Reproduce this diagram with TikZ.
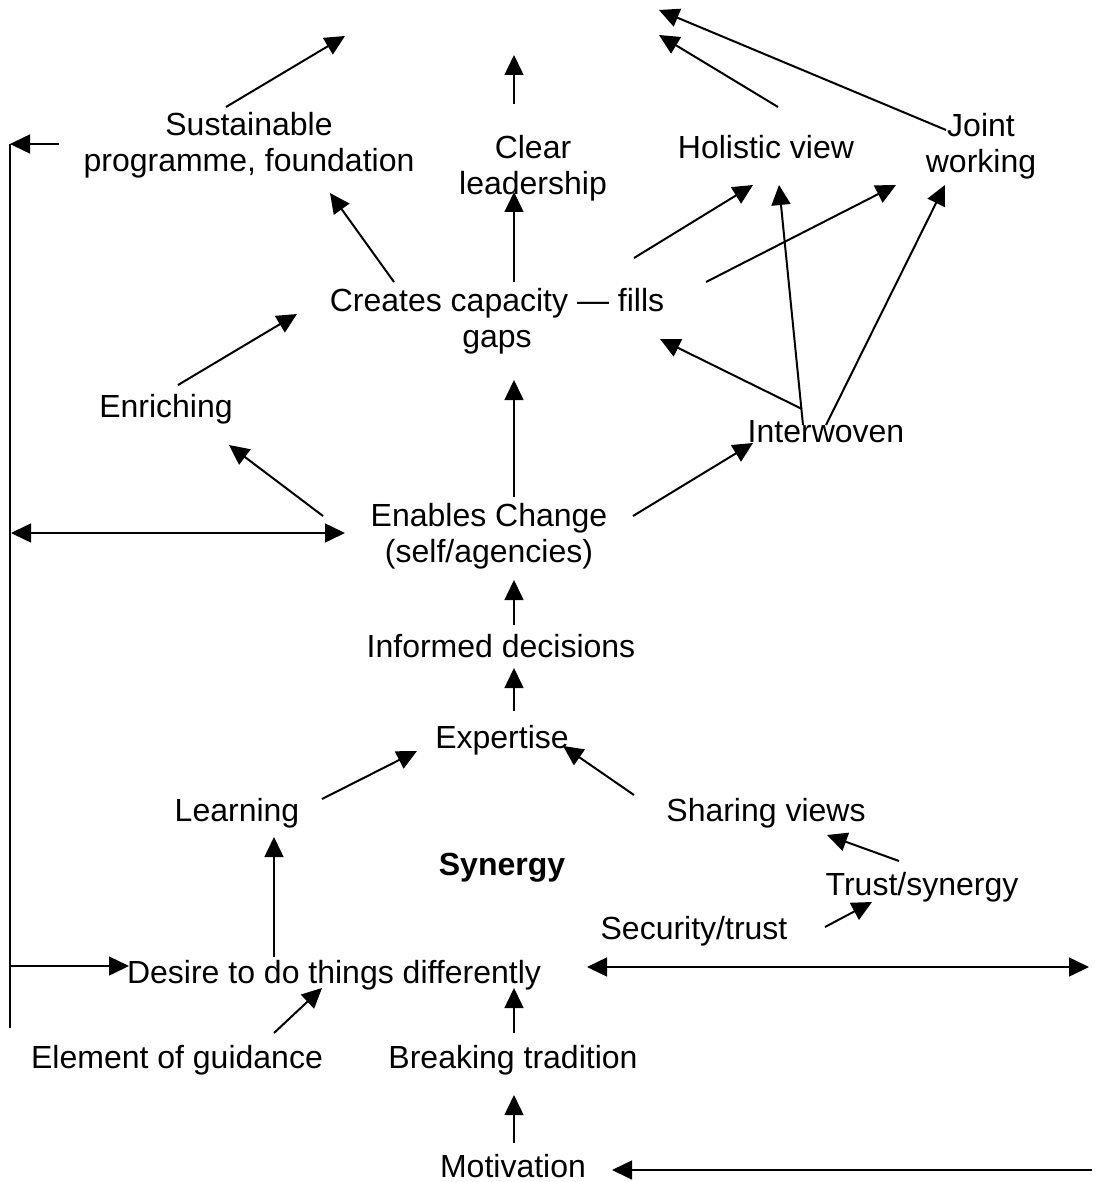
\documentclass[tikz,border=0pt]{standalone}
\usepackage{fontspec}
\setmainfont{Liberation Sans}
\usetikzlibrary{arrows.meta,calc}
\begin{document}
\begin{tikzpicture}[x=1pt,y=-1pt,
  lbl/.style={inner sep=0pt, align=center, font=\fontsize{32}{36}\selectfont,
    execute at begin node=\strut, execute at end node=\strut},
  tip/.style={-{Triangle[length=20pt,width=19pt]}},
  link/.style={tip, line width=2pt},
  axis/.style={tip, line width=1.5pt},
  twoway/.style={{Triangle[length=20pt,width=19pt]}-{Triangle[length=20pt,width=19pt]}, line width=1.5pt},
  rule/.style={line width=1.5pt}]
\useasboundingbox (0,0) rectangle (1101,1182);

% labels
\node[lbl] (sus)        at (249,147)  {Sustainable\\programme, foundation};
\node[lbl] (clear)      at (533,170)  {Clear\\leadership};
\node[lbl] (holistic)   at (766,151)  {Holistic view};
\node[lbl] (joint)      at (981,148)  {Joint\\working};
\node[lbl] (creates)    at (497,323)  {Creates capacity --- fills\\gaps};
\node[lbl] (enriching)  at (166,410)  {Enriching};
\node[lbl] (interwoven) at (826,435)  {Interwoven};
\node[lbl] (enables)    at (489,538)  {Enables Change\\(self/agencies)};
\node[lbl] (informed)   at (501,650)  {Informed decisions};
\node[lbl] (expertise)  at (502,741)  {Expertise};
\node[lbl] (learning)   at (237,814)  {Learning};
\node[lbl] (sharing)    at (766,814)  {Sharing views};
\node[lbl, font=\fontsize{32}{36}\selectfont\bfseries] (synergy) at (502,868) {Synergy};
\node[lbl] (trust)      at (922,888)  {Trust/synergy};
\node[lbl] (security)   at (694,932)  {Security/trust};
\node[lbl] (desire)     at (334,976)  {Desire to do things differently};
\node[lbl] (element)    at (177,1061) {Element of guidance};
\node[lbl] (breaking)   at (513,1061) {Breaking tradition};
\node[lbl] (motivation) at (513,1170) {Motivation};

% open ends and the frame on the left
\coordinate (top1) at (345,36);
\coordinate (top2) at (514,55);
\coordinate (top3) at (659,35);
\coordinate (top4) at (659,10);
\coordinate (frametop) at (10,144);
\coordinate (framemid) at (11,533);
\coordinate (framelow) at (10,966);
\coordinate (framebot) at (10,1028);
\coordinate (rightend) at (1089,967);
\coordinate (motend)   at (1092,1170);

% upper fan
\draw[link] ($(sus)+(-23,-40)$) -- (top1);
\draw[axis] ($(clear)+(-19,-66)$) -- (top2);
\draw[link] ($(holistic)+(12,-44)$) -- (top3);
\draw[link] ($(joint)+(-35,-18)$) -- (top4);

\draw[link] ($(creates)+(-103,-41)$) -- ($(sus)+(81,46)$);
\draw[axis] ($(creates)+(17,-41)$) -- ($(clear)+(-19,22)$);
\draw[link] ($(creates)+(137,-65)$) -- ($(holistic)+(-13,34)$);
\draw[link] ($(creates)+(209,-41)$) -- ($(joint)+(-85,37)$);

\draw[link] ($(interwoven)+(-24,-26)$) -- ($(creates)+(163,16)$);
\draw[link] ($(interwoven)+(-23,-10)$) -- ($(holistic)+(13,34)$);
\draw[link] ($(interwoven)+(0,-10)$) -- ($(joint)+(-36,37)$);

\draw[link] ($(enriching)+(12,-25)$) -- ($(creates)+(-200,-9)$);
\draw[link] ($(enables)+(-166,-22)$) -- ($(enriching)+(63,35)$);
\draw[axis] ($(enables)+(25,-41)$) -- ($(creates)+(17,57)$);
\draw[link] ($(enables)+(144,-22)$) -- ($(interwoven)+(-73,8)$);

% frame
\draw[rule] (frametop) -- (framebot);
\draw[axis] ($(sus)+(-190,-3)$) -- (frametop);
\draw[twoway] (framemid) -- ($(enables)+(-144,-5)$);
\draw[axis] (framelow) -- ($(desire)+(-205,-10)$);

% middle chain
\draw[axis] ($(informed)+(13,-25)$) -- ($(enables)+(25,42)$);
\draw[axis] ($(expertise)+(12,-30)$) -- ($(informed)+(13,18)$);
\draw[link] ($(learning)+(85,-15)$) -- ($(expertise)+(-85,10)$);
\draw[link] ($(sharing)+(-132,-19)$) -- ($(expertise)+(61,5)$);
\draw[link] ($(trust)+(-23,-27)$) -- ($(sharing)+(61,21)$);
\draw[link] ($(security)+(131,-5)$) -- ($(trust)+(-50,14)$);
\draw[axis] ($(desire)+(-60,-19)$) -- ($(learning)+(37,23)$);
\draw[twoway] ($(desire)+(253,-9)$) -- (rightend);

% lower chain
\draw[link] ($(element)+(97,-28)$) -- ($(desire)+(-12,12)$);
\draw[axis] ($(breaking)+(1,-28)$) -- ($(desire)+(180,12)$);
\draw[axis] ($(motivation)+(1,-27)$) -- ($(breaking)+(1,34)$);
\draw[axis] (motend) -- ($(motivation)+(99,0)$);
\end{tikzpicture}
\end{document}
